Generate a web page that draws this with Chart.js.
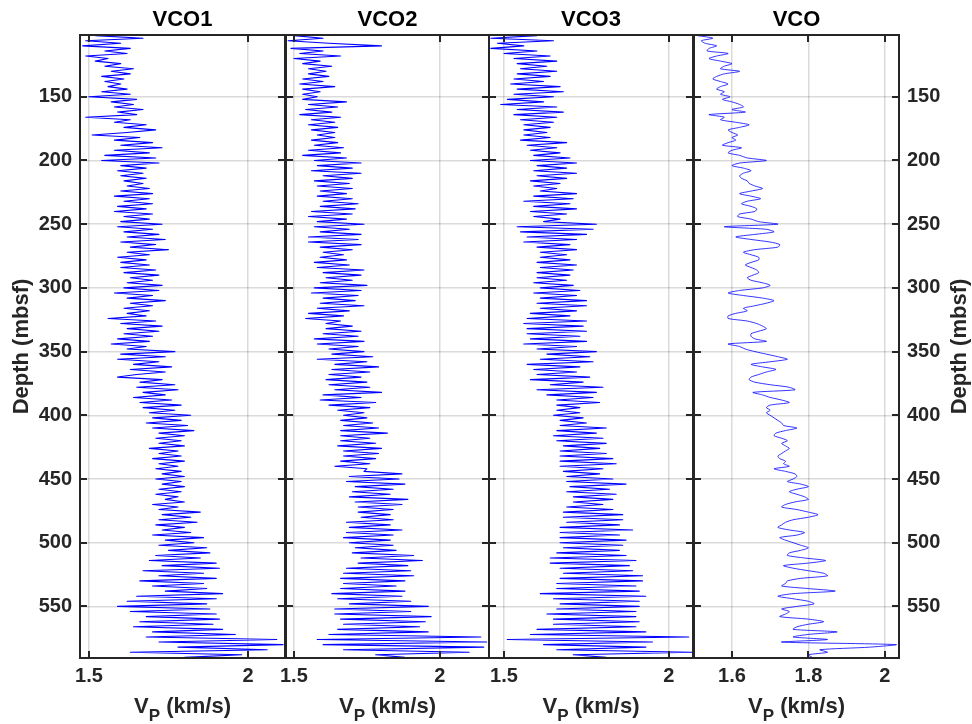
<!DOCTYPE html>
<html>
<head>
<meta charset="utf-8">
<title>Vp logs VCO1-VCO3 and VCO</title>
<script src="https://cdn.jsdelivr.net/npm/chart.js@4.4.1/dist/chart.umd.min.js"></script>
<style>
  html, body { margin: 0; padding: 0; background: #fff; }
  #wrap { position: relative; width: 972px; height: 724px; }
  #wrap canvas { position: absolute; left: 0; top: 0; }
</style>
</head>
<body>
<div id="wrap">
  <canvas id="c0" width="972" height="724"></canvas>
  <canvas id="c1" width="972" height="724"></canvas>
  <canvas id="c2" width="972" height="724"></canvas>
  <canvas id="c3" width="972" height="724"></canvas>
</div>
<script>
// depth sampling of the logs (mbsf)
var depthTop = 102;
var depthStep = 2;

// Vp (km/s), one value per depth sample
var vco1 = [
  1.52,1.67,1.49,1.60,1.48, 1.63,1.55,1.62,1.49,1.56, 1.52,1.60,1.55,1.64,1.57,
  1.63,1.54,1.61,1.55,1.60, 1.56,1.62,1.54,1.63,1.50, 1.65,1.57,1.64,1.58,1.67,
  1.59,1.65,1.49,1.63,1.58, 1.68,1.61,1.71,1.62,1.51, 1.66,1.58,1.70,1.60,1.73,
  1.58,1.69,1.55,1.71,1.54, 1.72,1.60,1.68,1.59,1.67, 1.60,1.68,1.61,1.67,1.62,
  1.69,1.60,1.70,1.58,1.69, 1.61,1.70,1.59,1.68,1.58, 1.70,1.61,1.69,1.60,1.73,
  1.59,1.70,1.61,1.72,1.62, 1.74,1.60,1.71,1.63,1.75, 1.62,1.69,1.59,1.68,1.60,
  1.69,1.60,1.71,1.61,1.72, 1.63,1.70,1.62,1.73,1.61, 1.72,1.58,1.70,1.62,1.74,
  1.63,1.70,1.61,1.69,1.62, 1.68,1.56,1.71,1.60,1.73, 1.62,1.72,1.61,1.70,1.59,
  1.69,1.57,1.68,1.62,1.77, 1.60,1.74,1.59,1.72,1.64, 1.76,1.63,1.74,1.65,1.59,
  1.73,1.66,1.77,1.65,1.78, 1.67,1.74,1.64,1.76,1.66, 1.79,1.67,1.77,1.69,1.82,
  1.70,1.79,1.68,1.81,1.70, 1.83,1.72,1.80,1.71,1.79, 1.72,1.80,1.69,1.78,1.72,
  1.79,1.70,1.80,1.72,1.78, 1.71,1.79,1.73,1.80,1.71, 1.79,1.73,1.80,1.72,1.79,
  1.71,1.78,1.74,1.80,1.70, 1.78,1.72,1.85,1.73,1.82, 1.72,1.84,1.71,1.80,1.73,
  1.82,1.70,1.86,1.74,1.83, 1.72,1.87,1.75,1.88,1.71, 1.85,1.69,1.90,1.73,1.91,
  1.67,1.86,1.72,1.90,1.66, 1.86,1.70,1.87,1.74,1.92, 1.65,1.90,1.62,1.87,1.59,
  1.88,1.63,1.90,1.68,1.91, 1.66,1.89,1.64,1.92,1.70, 1.96,1.68,2.09,1.72,2.11,
  1.78,2.06,1.63,1.98,1.80
];
var vco2 = [
  1.50,1.60,1.48,1.62,1.80, 1.49,1.60,1.52,1.66,1.50, 1.59,1.53,1.63,1.55,1.61,
  1.55,1.62,1.53,1.60,1.52, 1.64,1.53,1.59,1.53,1.58, 1.53,1.68,1.55,1.65,1.54,
  1.63,1.52,1.66,1.56,1.64, 1.55,1.65,1.56,1.64,1.58, 1.64,1.56,1.65,1.57,1.67,
  1.55,1.66,1.53,1.68,1.57, 1.73,1.58,1.70,1.56,1.73, 1.60,1.70,1.57,1.69,1.58,
  1.70,1.59,1.68,1.58,1.70, 1.60,1.72,1.59,1.71,1.56, 1.70,1.55,1.68,1.58,1.74,
  1.57,1.69,1.59,1.73,1.55, 1.72,1.55,1.73,1.59,1.70, 1.60,1.67,1.59,1.68,1.57,
  1.69,1.58,1.74,1.60,1.73, 1.61,1.70,1.59,1.75,1.57, 1.73,1.56,1.72,1.60,1.71,
  1.59,1.74,1.58,1.69,1.55, 1.67,1.54,1.66,1.61,1.70, 1.61,1.73,1.60,1.72,1.57,
  1.74,1.58,1.72,1.62,1.74, 1.63,1.77,1.58,1.75,1.64, 1.79,1.63,1.76,1.62,1.73,
  1.61,1.75,1.62,1.76,1.64, 1.80,1.60,1.73,1.59,1.78, 1.62,1.76,1.65,1.74,1.67,
  1.75,1.66,1.77,1.67,1.79, 1.66,1.82,1.66,1.76,1.66, 1.78,1.65,1.80,1.67,1.79,
  1.67,1.78,1.66,1.76,1.64, 1.75,1.74,1.87,1.69,1.86, 1.68,1.88,1.71,1.84,1.70,
  1.83,1.69,1.89,1.71,1.87, 1.72,1.84,1.72,1.83,1.73, 1.84,1.68,1.83,1.69,1.87,
  1.68,1.84,1.67,1.83,1.69, 1.84,1.71,1.85,1.70,1.91, 1.73,1.94,1.72,1.89,1.68,
  1.90,1.67,1.91,1.66,1.88, 1.67,1.85,1.66,1.88,1.63, 1.87,1.65,1.90,1.69,1.96,
  1.64,1.90,1.64,1.97,1.66, 1.95,1.67,1.93,1.65,1.96, 1.62,2.14,1.58,2.16,1.60,
  2.15,1.67,2.10,1.78,1.88
];
var vco3 = [
  1.60,1.46,1.65,1.48,1.56, 1.46,1.60,1.50,1.64,1.53, 1.66,1.54,1.63,1.55,1.66,
  1.54,1.64,1.53,1.62,1.52, 1.67,1.54,1.68,1.53,1.65, 1.51,1.62,1.49,1.66,1.54,
  1.68,1.53,1.66,1.55,1.65, 1.56,1.64,1.56,1.63,1.56, 1.64,1.55,1.69,1.57,1.66,
  1.58,1.67,1.59,1.70,1.58, 1.72,1.60,1.69,1.59,1.72, 1.60,1.69,1.58,1.67,1.59,
  1.66,1.61,1.72,1.59,1.71, 1.56,1.70,1.59,1.72,1.58, 1.69,1.59,1.67,1.62,1.78,
  1.54,1.77,1.55,1.75,1.57, 1.72,1.56,1.70,1.60,1.72, 1.61,1.69,1.61,1.70,1.60,
  1.72,1.61,1.71,1.60,1.70, 1.60,1.69,1.59,1.71,1.61, 1.73,1.59,1.72,1.61,1.75,
  1.60,1.75,1.61,1.72,1.58, 1.70,1.57,1.75,1.56,1.74, 1.57,1.75,1.57,1.73,1.58,
  1.75,1.56,1.72,1.60,1.78, 1.63,1.76,1.61,1.77,1.57, 1.73,1.59,1.72,1.60,1.76,
  1.58,1.74,1.64,1.80,1.60, 1.78,1.63,1.77,1.66,1.79, 1.66,1.73,1.66,1.73,1.65,
  1.74,1.67,1.75,1.67,1.81, 1.66,1.78,1.65,1.80,1.66, 1.81,1.68,1.79,1.67,1.81,
  1.67,1.83,1.67,1.84,1.67, 1.80,1.68,1.79,1.69,1.83, 1.69,1.87,1.70,1.82,1.69,
  1.84,1.71,1.83,1.71,1.80, 1.69,1.83,1.68,1.86,1.68, 1.86,1.69,1.85,1.67,1.89,
  1.67,1.85,1.67,1.87,1.67, 1.86,1.68,1.85,1.66,1.87, 1.64,1.90,1.64,1.88,1.67,
  1.89,1.68,1.92,1.67,1.92, 1.66,1.90,1.66,1.91,1.61, 1.93,1.65,1.91,1.67,1.91,
  1.66,1.90,1.63,1.90,1.65, 1.91,1.65,1.90,1.60,1.93, 1.58,2.06,1.51,1.95,1.62,
  1.93,1.66,2.07,1.71,1.81
];
var vco = [
  1.51,1.55,1.52,1.53,1.56, 1.54,1.535,1.59,1.56,1.54, 1.57,1.60,1.58,1.57,1.62,
  1.58,1.56,1.55,1.57,1.59, 1.57,1.56,1.58,1.57,1.595, 1.575,1.60,1.62,1.63,1.60,
  1.635,1.54,1.58,1.57,1.61, 1.645,1.62,1.59,1.60,1.615, 1.60,1.61,1.59,1.575,1.625,
  1.60,1.59,1.62,1.64,1.69, 1.62,1.60,1.63,1.65,1.63, 1.62,1.625,1.64,1.645,1.66,
  1.68,1.65,1.62,1.65,1.675, 1.64,1.625,1.65,1.665,1.66, 1.62,1.615,1.65,1.67,1.72,
  1.58,1.69,1.71,1.66,1.61, 1.65,1.70,1.725,1.72,1.66, 1.63,1.65,1.67,1.67,1.65,
  1.635,1.65,1.665,1.67,1.655, 1.64,1.65,1.68,1.70,1.68, 1.62,1.59,1.63,1.68,1.71,
  1.69,1.66,1.63,1.64,1.61, 1.59,1.59,1.64,1.665,1.68, 1.69,1.67,1.65,1.65,1.66,
  1.69,1.59,1.62,1.635,1.66, 1.69,1.72,1.745,1.70,1.65, 1.68,1.715,1.69,1.67,1.65,
  1.645,1.66,1.70,1.75,1.765, 1.655,1.68,1.70,1.73,1.75, 1.70,1.69,1.70,1.69,1.70,
  1.71,1.72,1.73,1.735,1.77, 1.74,1.715,1.71,1.73,1.745, 1.73,1.74,1.75,1.74,1.73,
  1.72,1.725,1.74,1.735,1.75, 1.71,1.74,1.765,1.77,1.76, 1.745,1.78,1.80,1.77,1.75,
  1.77,1.79,1.80,1.765,1.74, 1.73,1.77,1.80,1.825,1.80, 1.76,1.74,1.73,1.72,1.75,
  1.79,1.77,1.725,1.74,1.76, 1.78,1.80,1.78,1.75,1.745, 1.79,1.845,1.80,1.735,1.76,
  1.80,1.84,1.85,1.78,1.745, 1.74,1.73,1.80,1.87,1.76, 1.72,1.76,1.80,1.815,1.77,
  1.73,1.75,1.74,1.725,1.80, 1.84,1.80,1.77,1.76,1.875, 1.80,1.76,1.85,1.73,2.03,
  1.96,1.83,1.85,1.80,1.81
];

var panelTitles = ['VCO1', 'VCO2', 'VCO3', 'VCO'];
var depthTicks = [150, 200, 250, 300, 350, 400, 450, 500, 550];
var vpTicks = [1.5, 2];
var vpTicksVco = [1.6, 1.8, 2];

var FONT = "'Liberation Sans', Arial, Helvetica, sans-serif";
var INK = '#262626';
var W = 972, H = 724;
var plotBottom = 658;

// frame of each panel on the page and its axis limits
var panels = [
  { values: vco1, ticks: vpTicks, min: 1.472, max: 2.116, left: 80, right: 285, yAxis: 'left' },
  { values: vco2, ticks: vpTicks, min: 1.473, max: 2.168, left: 286, right: 489, yAxis: 'none' },
  { values: vco3, ticks: vpTicks, min: 1.4545, max: 2.073, left: 489, right: 693, yAxis: 'none' },
  { values: vco, ticks: vpTicksVco, min: 1.5007, max: 2.037, left: 694, right: 899, yAxis: 'right', smooth: true }
];

// box, inward ticks, the V_P label and the right-hand depth label
var framePlugin = {
  id: 'frame',
  afterDraw: function (chart, args, opts) {
    var ctx = chart.ctx, a = chart.chartArea;
    var xs = chart.scales.x, ys = chart.scales.y;
    ctx.save();
    ctx.strokeStyle = INK;
    ctx.lineWidth = 2;
    ctx.beginPath();
    xs.ticks.forEach(function (t) {
      var px = Math.round(xs.getPixelForValue(t.value));
      ctx.moveTo(px, a.bottom); ctx.lineTo(px, a.bottom - 7);
      ctx.moveTo(px, a.top); ctx.lineTo(px, a.top + 7);
    });
    ys.ticks.forEach(function (t) {
      var py = Math.round(ys.getPixelForValue(t.value));
      ctx.moveTo(a.left, py); ctx.lineTo(a.left + 7, py);
      ctx.moveTo(a.right, py); ctx.lineTo(a.right - 7, py);
    });
    ctx.stroke();
    ctx.strokeRect(a.left, a.top, a.right - a.left, a.bottom - a.top);

    var big = 'bold 22px ' + FONT, small = 'bold 17px ' + FONT;
    ctx.fillStyle = INK;
    ctx.textAlign = 'left';
    ctx.textBaseline = 'alphabetic';
    ctx.font = big;
    var wV = ctx.measureText('V').width, wR = ctx.measureText(' (km/s)').width;
    ctx.font = small;
    var wP = ctx.measureText('P').width;
    var x0 = (a.left + a.right) / 2 - (wV + wP + wR) / 2, base = 713;
    ctx.font = big; ctx.fillText('V', x0, base);
    ctx.font = small; ctx.fillText('P', x0 + wV, base + 8);
    ctx.font = big; ctx.fillText(' (km/s)', x0 + wV + wP, base);

    if (opts.rightLabel) {
      ctx.translate(960, (a.top + a.bottom) / 2);
      ctx.rotate(-Math.PI / 2);
      ctx.textAlign = 'center';
      ctx.textBaseline = 'middle';
      ctx.font = big;
      ctx.fillText(opts.rightLabel, 0, 0);
    }
    ctx.restore();
  }
};

panels.forEach(function (p, i) {
  var points = p.values.map(function (v, k) {
    return { x: v, y: depthTop + k * depthStep };
  });
  var gridStyle = { color: 'rgba(38,38,38,0.17)', lineWidth: 1.5, drawTicks: false };
  var tickFont = { family: FONT, size: 20, weight: 'bold' };

  new Chart(document.getElementById('c' + i), {
    type: 'scatter',
    data: {
      datasets: [{
        data: points,
        showLine: true,
        borderColor: '#0000ff',
        borderWidth: p.smooth ? 0.8 : 1.1,
        borderJoinStyle: 'round',
        pointRadius: 0,
        tension: p.smooth ? 0.25 : 0,
        fill: false
      }]
    },
    options: {
      responsive: false,
      animation: false,
      devicePixelRatio: 1,
      events: [],
      layout: {
        padding: {
          left: p.yAxis === 'left' ? 0 : p.left,
          right: p.yAxis === 'right' ? 0 : W - p.right,
          top: 0,
          bottom: 0
        }
      },
      scales: {
        x: {
          type: 'linear',
          min: p.min,
          max: p.max,
          afterBuildTicks: function (s) { s.ticks = p.ticks.map(function (v) { return { value: v }; }); },
          afterFit: function (s) { s.height = H - plotBottom; },
          grid: gridStyle,
          border: { display: false },
          ticks: {
            padding: 6,
            color: INK,
            font: tickFont,
            maxRotation: 0,
            callback: function (v) { return String(v); }
          }
        },
        y: {
          type: 'linear',
          position: p.yAxis === 'right' ? 'right' : 'left',
          reverse: true,
          min: 101.5,
          max: 590.5,
          afterBuildTicks: function (s) { s.ticks = depthTicks.map(function (v) { return { value: v }; }); },
          afterFit: function (s) {
            s.width = p.yAxis === 'left' ? p.left : (p.yAxis === 'right' ? W - p.right : 0);
          },
          grid: gridStyle,
          border: { display: false },
          ticks: {
            display: p.yAxis !== 'none',
            padding: 8,
            color: INK,
            font: tickFont,
            callback: function (v) { return String(v); }
          },
          title: {
            display: p.yAxis === 'left',
            text: 'Depth (mbsf)',
            color: INK,
            font: { family: FONT, size: 22, weight: 'bold' },
            padding: { top: 9, bottom: 0 }
          }
        }
      },
      plugins: {
        legend: { display: false },
        tooltip: { enabled: false },
        title: {
          display: true,
          text: panelTitles[i],
          fullSize: false,
          color: '#000',
          font: { family: FONT, size: 22, weight: 'bold' },
          padding: { top: 7, bottom: 1.6 }
        },
        frame: { rightLabel: p.yAxis === 'right' ? 'Depth (mbsf)' : null }
      }
    },
    plugins: [framePlugin]
  });
});
</script>
</body>
</html>
